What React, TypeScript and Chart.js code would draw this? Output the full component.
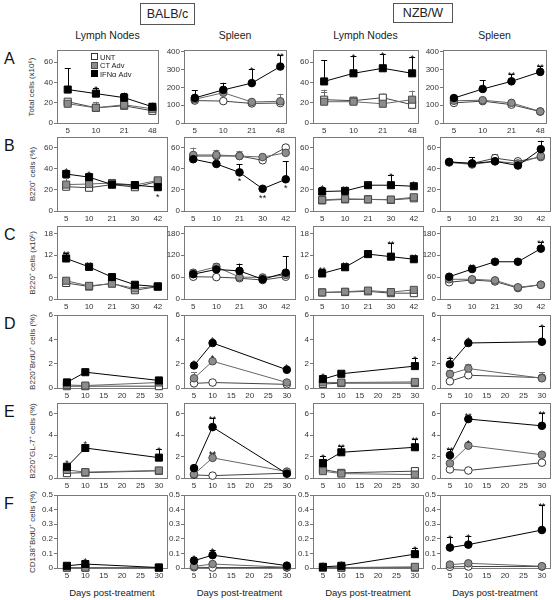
import React, { useEffect, useRef } from 'react';
import { Chart, registerables } from 'chart.js';
Chart.register(...registerables);

const FONT = '"Liberation Sans", Arial, sans-serif';

// ---------- x categories / ticks ----------
const daysA = ['5', '10', '21', '48'];
const daysBC = ['5', '10', '21', '30', '42'];
const daysDEF = [5, 10, 30];
const ticksDEF = [5, 10, 15, 20, 25, 30];

// ---------- y ticks ----------
const yTicksA_LN = [0, 10, 20, 30, 40, 50, 60, 70];
const yTicksA_SP = [0, 100, 200, 300, 400];
const yTicksB = [0, 10, 20, 30, 40, 50, 60, 70];
const yTicksC_LN = [0, 6, 12, 18];
const yTicksC_SP = [0, 60, 120, 180];
const yTicksD = [0, 1, 2, 3, 4, 5, 6];
const yTicksE = [0, 1, 2, 3, 4, 5, 6, 7];
const yTicksF = [0, 0.1, 0.2, 0.3, 0.4, 0.5];

// ---------- Row A: total cells ----------
const A1_unt = [21, 15, 17, 12];
const A1_ct = [19, 15, 18, 14];
const A1_ifn = [33, 29, 25, 16];
const A1_ifnE = [21, 6, 5, 4];
const A1_ctE = [3, 6, 3, 2];
const A1_ifnS = ['', '*', '', ''];

const A2_unt = [126, 123, 110, 112];
const A2_ct = [133, 170, 118, 122];
const A2_ifn = [141, 186, 224, 317];
const A2_ifnE = [43, 40, 80, 65];
const A2_ctE = [0, 0, 10, 42];
const A2_untE = [0, 15, 0, 0];
const A2_ifnS = ['', '', '*', '**'];

const A3_unt = [23, 22, 25, 18];
const A3_ct = [21, 21, 19, 23];
const A3_ifn = [41, 49, 54, 49];
const A3_ifnE = [21, 17, 14, 16];
const A3_ctE = [12, 5, 0, 9];
const A3_untE = [8, 0, 4, 3];
const A3_ifnS = ['', '*', '*', '*'];

const A4_unt = [113, 123, 103, 64];
const A4_ct = [125, 128, 113, 65];
const A4_ifn = [140, 191, 234, 287];
const A4_ifnE = [10, 48, 40, 32];
const A4_ctE = [8, 0, 12, 16];
const A4_ifnS = ['', '', '**', '**'];

// ---------- Row B: B220+ cells (%) ----------
const B1_unt = [23, 22, 25, 22.5, 28];
const B1_ct = [25, 25.5, 26.5, 24.5, 29];
const B1_ifn = [35, 32, 25, 24.5, 22.5];
const B1_ifnE = [4, 4, 3, 2, 0];
const B1_ctE = [6, 3, 2, 2, 2];
const B1_ifnS = ['*', '*', '', '', '_*'];

const B2_unt = [52, 52, 52, 48, 60];
const B2_ct = [53, 53, 52, 51, 55];
const B2_ifn = [49, 44.5, 36.5, 21, 30];
const B2_ifnE = [0, 0, 8, 0, 17];
const B2_ctE = [7, 5, 5, 3, 0];
const B2_ifnS = ['', '', '_*', '_**', '_*'];

const B3_unt = [10, 11, 11, 10.5, 12];
const B3_ct = [10.5, 11.5, 11, 10.8, 13];
const B3_ifn = [18.4, 19, 24.4, 24.4, 23.4];
const B3_ifnE = [4, 3, 2, 10, 3];
const B3_ifnS = ['*', '**', '**', '*', '*'];

const B4_unt = [46, 45, 50, 47, 51];
const B4_ct = [46, 44, 47, 45, 52];
const B4_ifn = [46.5, 45, 47, 43, 58.5];
const B4_ifnE = [3, 6, 0, 0, 8];
const B4_untE = [0, 0, 4, 0, 0];

// ---------- Row C: B220+ cells (x10^6) ----------
const C1_unt = [4.4, 3.4, 4.3, 2.4, 3.4];
const C1_ct = [5.0, 3.6, 4.2, 2.9, 3.5];
const C1_ifn = [11.1, 8.8, 6.0, 3.9, 3.4];
const C1_ifnE = [1.6, 0.8, 0, 0, 0];
const C1_ctE = [0.8, 0, 0.5, 0, 0];
const C1_ifnS = ['**', '**', '', '', ''];

const C2_unt = [61, 60, 57, 52, 61];
const C2_ct = [72, 88, 60, 59, 66];
const C2_ifn = [68, 81, 77, 54, 72];
const C2_ifnE = [0, 0, 20, 0, 45];
const C2_ctE = [6, 11, 0, 3, 0];

const C3_unt = [1.8, 1.9, 2.1, 1.6, 1.6];
const C3_ct = [1.8, 2.0, 2.3, 1.9, 2.5];
const C3_ifn = [7.0, 8.7, 12.3, 11.6, 10.9];
const C3_ifnE = [1.2, 0.9, 0.4, 3.8, 0.8];
const C3_ifnS = ['**', '**', '**', '**', '**'];

const C4_unt = [46, 52, 48, 30, 39];
const C4_ct = [54, 54, 51, 32, 39];
const C4_ifn = [61, 82, 102, 102, 138];
const C4_ifnE = [0, 8, 5, 5, 18];
const C4_ctE = [0, 9, 0, 0, 0];
const C4_ifnS = ['', '**', '**', '**', '**'];

// ---------- Row D: B220+BrdU+ (%) ----------
const D1_unt = [0.15, 0.15, 0.15];
const D1_ct = [0.25, 0.2, 0.45];
const D1_ifn = [0.46, 1.3, 0.62];
const D1_ifnE = [0, 0.2, 0];
const D1_ifnS = ['', '*', ''];

const D2_unt = [0.38, 0.45, 0.3];
const D2_ct = [0.8, 2.2, 0.45];
const D2_ifn = [1.85, 3.7, 1.5];
const D2_ifnE = [0.3, 0, 0];
const D2_ctE = [0.5, 0, 0];
const D2_ifnS = ['*', '*', '*'];
const D2_ctS = ['', '*', ''];

const D3_unt = [0.33, 0.4, 0.4];
const D3_ct = [0.46, 0.45, 0.5];
const D3_ifn = [0.73, 1.17, 1.8];
const D3_ifnE = [0.35, 0.15, 0.7];
const D3_ifnS = ['*', '*', '*'];

const D4_unt = [0.55, 1.05, 0.85];
const D4_ct = [1.15, 1.6, 0.8];
const D4_ifn = [1.95, 3.7, 3.8];
const D4_ifnE = [0.5, 0, 1.3];
const D4_ctE = [0.35, 0.4, 0.5];
const D4_ifnS = ['*', '*', '*'];

// ---------- Row E: B220+GL-7+ (%) ----------
const E1_unt = [0.45, 0.5, 0.67];
const E1_ct = [0.75, 0.55, 0.7];
const E1_ifn = [1.05, 2.8, 1.9];
const E1_ifnE = [0, 0, 0.8];
const E1_ifnS = ['*', '*', '*'];

const E2_unt = [0.29, 0.22, 0.45];
const E2_ct = [0.35, 1.88, 0.6];
const E2_ifn = [0.92, 4.75, 0.4];
const E2_ifnE = [0.3, 0.85, 0];
const E2_ctE = [0, 0.45, 0];
const E2_ifnS = ['', '**', ''];
const E2_ctS = ['', '**', ''];

const E3_unt = [0.8, 0.48, 0.64];
const E3_ct = [0.64, 0.41, 0.32];
const E3_ifn = [1.4, 2.4, 2.87];
const E3_ifnE = [0.65, 0.6, 0.8];
const E3_ifnS = ['*', '**', '**'];

const E4_unt = [0.8, 0.7, 1.43];
const E4_ct = [1.37, 3.02, 2.17];
const E4_ifn = [2.13, 5.5, 4.87];
const E4_ifnE = [0.55, 0, 1.2];
const E4_ctE = [0, 0, 0.2];
const E4_ifnS = ['**', '**', '**'];
const E4_ctS = ['', '*', ''];

// ---------- Row F: CD138+BrdU+ (%) ----------
const F1_unt = [0.002, 0.002, 0.002];
const F1_ct = [0.003, 0.003, 0.002];
const F1_ifn = [0.015, 0.027, 0.003];
const F1_ifnE = [0.015, 0.025, 0];
const F1_ifnS = ['*', '*', ''];

const F2_unt = [0.005, 0.003, 0.003];
const F2_ct = [0.011, 0.027, 0.005];
const F2_ifn = [0.05, 0.088, 0.016];
const F2_ifnE = [0.025, 0.035, 0];
const F2_ifnS = ['*', '*', ''];

const F3_unt = [0.002, 0.002, 0.002];
const F3_ct = [0.003, 0.003, 0.008];
const F3_ifn = [0.008, 0.015, 0.095];
const F3_ifnE = [0.02, 0.02, 0.045];
const F3_ifnS = ['*', '*', '*'];

const F4_unt = [0.008, 0.01, 0.01];
const F4_ct = [0.023, 0.032, 0.012];
const F4_ifn = [0.14, 0.16, 0.26];
const F4_ifnE = [0.07, 0.06, 0.17];
const F4_ifnS = ['*', '*', '**'];

// ---------- text ----------
const strainLabels = ['BALB/c', 'NZB/W'];
const tissueLabels = ['Lymph Nodes', 'Spleen', 'Lymph Nodes', 'Spleen'];
const rowLetters = ['A', 'B', 'C', 'D', 'E', 'F'];
const yTitles = [
  'Total cells (x10⁶)',
  'B220⁺ cells (%)',
  'B220⁺ cells (x10⁶)',
  'B220⁺BrdU⁺ cells (%)',
  'B220⁺GL-7⁺ cells (%)',
  'CD138⁺BrdU⁺ cells (%)',
];
const xTitle = 'Days post-treatment';
const legendLabels = ['UNT', 'CT Adv', 'IFNα Adv'];

// ---------- layout (positions only) ----------
const COLS_A = [[57, 158], [184, 286], [313, 418], [443, 546]];
const COLS = [[57, 167], [184, 295], [313, 423], [440, 550]];
const ROWS_Y = [[50, 123], [137, 211], [226, 299], [315, 388], [403, 478], [495, 568]];
const PAD_L = 30, PAD_T = 14, PAD_R = 10, PAD_B = 18;

const COLORS = {
  ifn: { fill: '#000', stroke: '#000', line: '#000', err: '#000' },
  ct: { fill: '#8c8c8c', stroke: '#4a4a4a', line: '#666', err: '#777' },
  unt: { fill: '#fff', stroke: '#333', line: '#444', err: '#666' },
};

type Series = {
  unt: number[]; ct: number[]; ifn: number[];
  ifnE?: number[]; ctE?: number[]; untE?: number[];
  ifnS?: string[]; ctS?: string[];
};

type PanelSpec = Series & {
  box: number[];
  cat?: string[];
  days?: number[];
  xTicks: number[];
  xMin: number; xMax: number;
  yMax: number; yTicks: number[];
  shape: 'rect' | 'circle';
};

const boxPlugin = {
  id: 'boxErr',
  beforeDatasetsDraw(chart: any) {
    const ctx = chart.ctx;
    const a = chart.chartArea;
    ctx.save();
    ctx.strokeStyle = '#7a7a7a';
    ctx.lineWidth = 1;
    ctx.strokeRect(Math.round(a.left) + 0.5, Math.round(a.top) + 0.5, Math.round(a.right - a.left), Math.round(a.bottom - a.top));
    const ys = chart.scales.y;
    chart.data.datasets.forEach((ds: any, i: number) => {
      const meta = chart.getDatasetMeta(i);
      (ds.errs || []).forEach((e: number, j: number) => {
        if (!e) return;
        const pt = meta.data[j];
        const v = ds.data[j].y;
        const yt = ys.getPixelForValue(v + e);
        ctx.strokeStyle = ds.errColor;
        ctx.lineWidth = 1;
        ctx.beginPath();
        ctx.moveTo(Math.round(pt.x) + 0.5, pt.y);
        ctx.lineTo(Math.round(pt.x) + 0.5, yt);
        ctx.moveTo(pt.x - 3, Math.round(yt) + 0.5);
        ctx.lineTo(pt.x + 3, Math.round(yt) + 0.5);
        ctx.stroke();
      });
    });
    ctx.restore();
  },
  afterDatasetsDraw(chart: any) {
    const ctx = chart.ctx;
    const ys = chart.scales.y;
    ctx.save();
    ctx.fillStyle = '#111';
    ctx.font = `9px ${FONT}`;
    ctx.textAlign = 'center';
    ctx.textBaseline = 'alphabetic';
    chart.data.datasets.forEach((ds: any, i: number) => {
      const meta = chart.getDatasetMeta(i);
      (ds.stars || []).forEach((s: string, j: number) => {
        if (!s) return;
        const pt = meta.data[j];
        const r = ds.pointRadius;
        if (s.startsWith('_')) {
          ctx.fillText(s.slice(1), pt.x, pt.y + r + 8);
        } else {
          const e = (ds.errs || [])[j] || 0;
          const top = e ? ys.getPixelForValue(ds.data[j].y + e) : pt.y - r;
          ctx.fillText(s, pt.x, top + 4);
        }
      });
    });
    ctx.restore();
  },
};

function Panel(p: PanelSpec) {
  const ref = useRef<HTMLCanvasElement>(null);
  const [l, r] = [p.box[0], p.box[1]];
  const [t, b] = [p.box[2], p.box[3]];
  const W = r - l + PAD_L + PAD_R;
  const H = b - t + PAD_T + PAD_B;
  useEffect(() => {
    const xs = p.cat ? p.cat.map((_, i) => i) : (p.days as number[]);
    const mk = (vals: number[]) => vals.map((v, i) => ({ x: xs[i], y: v }));
    const rad = p.shape === 'rect' ? 5 : 3.8;
    const ds = (key: 'ifn' | 'ct' | 'unt', vals: number[], errs?: number[], stars?: string[]) => ({
      label: key,
      data: mk(vals),
      borderColor: COLORS[key].line,
      backgroundColor: COLORS[key].fill,
      pointBackgroundColor: COLORS[key].fill,
      pointBorderColor: COLORS[key].stroke,
      pointBorderWidth: 1,
      pointStyle: p.shape,
      pointRadius: rad,
      borderWidth: 1,
      tension: 0,
      fill: false,
      clip: false,
      errs: errs || [],
      stars: stars || [],
      errColor: COLORS[key].err,
    });
    const chart = new Chart(ref.current as HTMLCanvasElement, {
      type: 'line',
      data: {
        datasets: [
          ds('ifn', p.ifn, p.ifnE, p.ifnS),
          ds('ct', p.ct, p.ctE, p.ctS),
          ds('unt', p.unt, p.untE),
        ] as any,
      },
      options: {
        responsive: false,
        animation: false,
        events: [],
        layout: { padding: { top: PAD_T, right: PAD_R, left: 0, bottom: 0 } },
        plugins: { legend: { display: false }, tooltip: { enabled: false } },
        scales: {
          x: {
            type: 'linear',
            min: p.xMin,
            max: p.xMax,
            afterBuildTicks: (s: any) => { s.ticks = p.xTicks.map((v) => ({ value: v })); },
            afterFit: (s: any) => { s.height = PAD_B; },
            grid: { display: false, drawTicks: false, tickLength: 0 },
            border: { display: false },
            ticks: {
              autoSkip: false,
              maxRotation: 0,
              padding: 3,
              color: '#333',
              font: { size: 8, family: FONT },
              callback: (v: any) => (p.cat ? p.cat[Math.round(v)] : String(v)),
            },
          },
          y: {
            type: 'linear',
            min: 0,
            max: p.yMax,
            afterBuildTicks: (s: any) => { s.ticks = p.yTicks.map((v) => ({ value: v })); },
            afterFit: (s: any) => { s.width = PAD_L; },
            grid: { display: true, drawOnChartArea: false, drawTicks: true, tickLength: 3, color: '#777' },
            border: { display: false },
            ticks: {
              padding: 1,
              color: '#333',
              font: { size: 8, family: FONT },
              callback: (v: any) => String(v),
            },
          },
        },
      } as any,
      plugins: [boxPlugin],
    });
    return () => chart.destroy();
  }, []);
  return (
    <canvas
      ref={ref}
      width={W}
      height={H}
      style={{ position: 'absolute', left: l - PAD_L, top: t - PAD_T, width: W, height: H, background: 'transparent' }}
    />
  );
}

function buildPanels(): PanelSpec[] {
  const rowsData: Series[][] = [
    [
      { unt: A1_unt, ct: A1_ct, ifn: A1_ifn, ifnE: A1_ifnE, ctE: A1_ctE, ifnS: A1_ifnS },
      { unt: A2_unt, ct: A2_ct, ifn: A2_ifn, ifnE: A2_ifnE, ctE: A2_ctE, untE: A2_untE, ifnS: A2_ifnS },
      { unt: A3_unt, ct: A3_ct, ifn: A3_ifn, ifnE: A3_ifnE, ctE: A3_ctE, untE: A3_untE, ifnS: A3_ifnS },
      { unt: A4_unt, ct: A4_ct, ifn: A4_ifn, ifnE: A4_ifnE, ctE: A4_ctE, ifnS: A4_ifnS },
    ],
    [
      { unt: B1_unt, ct: B1_ct, ifn: B1_ifn, ifnE: B1_ifnE, ctE: B1_ctE, ifnS: B1_ifnS },
      { unt: B2_unt, ct: B2_ct, ifn: B2_ifn, ifnE: B2_ifnE, ctE: B2_ctE, ifnS: B2_ifnS },
      { unt: B3_unt, ct: B3_ct, ifn: B3_ifn, ifnE: B3_ifnE, ifnS: B3_ifnS },
      { unt: B4_unt, ct: B4_ct, ifn: B4_ifn, ifnE: B4_ifnE, untE: B4_untE },
    ],
    [
      { unt: C1_unt, ct: C1_ct, ifn: C1_ifn, ifnE: C1_ifnE, ctE: C1_ctE, ifnS: C1_ifnS },
      { unt: C2_unt, ct: C2_ct, ifn: C2_ifn, ifnE: C2_ifnE, ctE: C2_ctE },
      { unt: C3_unt, ct: C3_ct, ifn: C3_ifn, ifnE: C3_ifnE, ifnS: C3_ifnS },
      { unt: C4_unt, ct: C4_ct, ifn: C4_ifn, ifnE: C4_ifnE, ctE: C4_ctE, ifnS: C4_ifnS },
    ],
    [
      { unt: D1_unt, ct: D1_ct, ifn: D1_ifn, ifnE: D1_ifnE, ifnS: D1_ifnS },
      { unt: D2_unt, ct: D2_ct, ifn: D2_ifn, ifnE: D2_ifnE, ctE: D2_ctE, ifnS: D2_ifnS, ctS: D2_ctS },
      { unt: D3_unt, ct: D3_ct, ifn: D3_ifn, ifnE: D3_ifnE, ifnS: D3_ifnS },
      { unt: D4_unt, ct: D4_ct, ifn: D4_ifn, ifnE: D4_ifnE, ctE: D4_ctE, ifnS: D4_ifnS },
    ],
    [
      { unt: E1_unt, ct: E1_ct, ifn: E1_ifn, ifnE: E1_ifnE, ifnS: E1_ifnS },
      { unt: E2_unt, ct: E2_ct, ifn: E2_ifn, ifnE: E2_ifnE, ctE: E2_ctE, ifnS: E2_ifnS, ctS: E2_ctS },
      { unt: E3_unt, ct: E3_ct, ifn: E3_ifn, ifnE: E3_ifnE, ifnS: E3_ifnS },
      { unt: E4_unt, ct: E4_ct, ifn: E4_ifn, ifnE: E4_ifnE, ctE: E4_ctE, ifnS: E4_ifnS, ctS: E4_ctS },
    ],
    [
      { unt: F1_unt, ct: F1_ct, ifn: F1_ifn, ifnE: F1_ifnE, ifnS: F1_ifnS },
      { unt: F2_unt, ct: F2_ct, ifn: F2_ifn, ifnE: F2_ifnE, ifnS: F2_ifnS },
      { unt: F3_unt, ct: F3_ct, ifn: F3_ifn, ifnE: F3_ifnE, ifnS: F3_ifnS },
      { unt: F4_unt, ct: F4_ct, ifn: F4_ifn, ifnE: F4_ifnE, ifnS: F4_ifnS },
    ],
  ];
  const out: PanelSpec[] = [];
  rowsData.forEach((row, ri) => {
    row.forEach((s, ci) => {
      const cols = ri === 0 ? COLS_A : COLS;
      const box = [cols[ci][0], cols[ci][1], ROWS_Y[ri][0], ROWS_Y[ri][1]];
      const spleen = ci % 2 === 1;
      let extra: any;
      if (ri === 0) {
        extra = { cat: daysA, xTicks: [0, 1, 2, 3], xMin: -0.38, xMax: 3.2,
          yMax: spleen ? 410 : 72, yTicks: spleen ? yTicksA_SP : yTicksA_LN };
      } else if (ri === 1) {
        extra = { cat: daysBC, xTicks: [0, 1, 2, 3, 4], xMin: -0.4, xMax: 4.4, yMax: 70, yTicks: yTicksB };
      } else if (ri === 2) {
        extra = { cat: daysBC, xTicks: [0, 1, 2, 3, 4], xMin: -0.4, xMax: 4.4,
          yMax: spleen ? 200 : 20, yTicks: spleen ? yTicksC_SP : yTicksC_LN };
      } else {
        const yt = ri === 3 ? yTicksD : ri === 4 ? yTicksE : yTicksF;
        extra = { days: daysDEF, xTicks: ticksDEF, xMin: 2.3, xMax: 32.2, yMax: yt[yt.length - 1], yTicks: yt };
      }
      out.push({ ...s, ...extra, box, shape: spleen ? 'circle' : 'rect' });
    });
  });
  return out;
}

const PANELS = buildPanels();

export default function App() {
  const txt = (extra: React.CSSProperties): React.CSSProperties => ({
    position: 'absolute', whiteSpace: 'nowrap', color: '#222', ...extra,
  });
  const colCenters = COLS_A.map((c) => (c[0] + c[1]) / 2);
  const xTitleCenters = COLS.map((c) => (c[0] + c[1]) / 2);
  return (
    <div style={{ position: 'absolute', left: 0, top: 0, width: 559, height: 600, background: '#fff', fontFamily: FONT, overflow: 'hidden' }}>
      <div style={txt({ left: 140, top: 3, width: 53, height: 20, border: '1px solid #555', fontSize: 12.5, lineHeight: '20px', textAlign: 'center' })}>{strainLabels[0]}</div>
      <div style={txt({ left: 393, top: 3, width: 58, height: 18, border: '1px solid #555', fontSize: 12.5, lineHeight: '18px', textAlign: 'center' })}>{strainLabels[1]}</div>
      {tissueLabels.map((t, i) => (
        <div key={'t' + i} style={txt({ left: colCenters[i], top: 35, transform: 'translate(-50%,-50%)', fontSize: 10.5 })}>{t}</div>
      ))}
      {rowLetters.map((L, i) => (
        <div key={'L' + i} style={txt({ left: 4, top: ROWS_Y[i][0] + 9, transform: 'translateY(-50%)', fontSize: 16, color: '#111' })}>{L}</div>
      ))}
      {yTitles.map((t, i) => (
        <div key={'y' + i} style={txt({ left: 31, top: (ROWS_Y[i][0] + ROWS_Y[i][1]) / 2, transform: 'translate(-50%,-50%) rotate(-90deg)', fontSize: 8, color: '#333' })}>{t}</div>
      ))}
      {xTitleCenters.map((x, i) => (
        <div key={'x' + i} style={txt({ left: x, top: 592, transform: 'translate(-50%,-50%)', fontSize: 9.5 })}>{xTitle}</div>
      ))}
      {PANELS.map((p, i) => (
        <Panel key={i} {...p} />
      ))}
      {legendLabels.map((lab, i) => {
        const k = i === 0 ? 'unt' : i === 1 ? 'ct' : 'ifn';
        const c = (COLORS as any)[k];
        const y = 53 + i * 8.5;
        return (
          <React.Fragment key={'lg' + i}>
            <div style={{ position: 'absolute', left: 91, top: y, width: 5, height: 5, background: c.fill, border: `1px solid ${c.stroke}` }} />
            <div style={txt({ left: 100, top: y + 3.5, transform: 'translateY(-50%)', fontSize: 7.5 })}>{lab}</div>
          </React.Fragment>
        );
      })}
    </div>
  );
}
